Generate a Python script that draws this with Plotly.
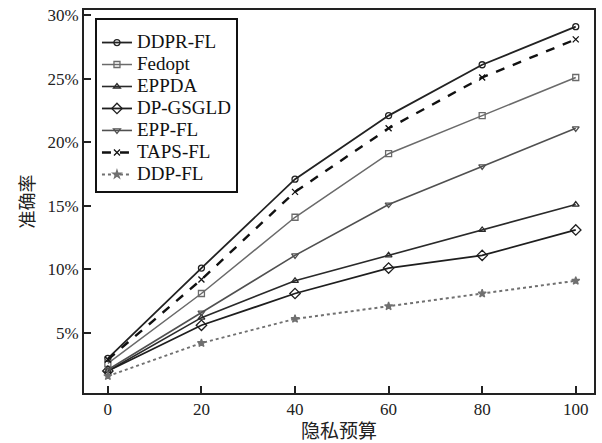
import plotly.graph_objects as go

x_vals = [0, 20, 40, 60, 80, 100]
ddpr_fl = [3.0, 10.1, 17.1, 22.1, 26.1, 29.1]
fedopt = [2.6, 8.1, 14.1, 19.1, 22.1, 25.1]
eppda = [2.0, 6.2, 9.1, 11.1, 13.1, 15.1]
dp_gsgld = [2.0, 5.6, 8.1, 10.1, 11.1, 13.1]
epp_fl = [2.1, 6.6, 11.1, 15.1, 18.1, 21.1]
taps_fl = [2.9, 9.2, 16.1, 21.1, 25.1, 28.1]
ddp_fl = [1.6, 4.2, 6.1, 7.1, 8.1, 9.1]
y_ticks = [5, 10, 15, 20, 25, 30]
y_tick_text = ["5%", "10%", "15%", "20%", "25%", "30%"]
x_ticks = [0, 20, 40, 60, 80, 100]

series = [
    ("DDPR-FL", ddpr_fl, "#222222", "solid", 1.8, "circle-open", 6),
    ("Fedopt", fedopt, "#6a6a6a", "solid", 1.5, "square-open", 6),
    ("EPPDA", eppda, "#2a2a2a", "solid", 1.6, "triangle-up-open", 6),
    ("DP-GSGLD", dp_gsgld, "#1e1e1e", "solid", 1.8, "diamond-open", 8),
    ("EPP-FL", epp_fl, "#505050", "solid", 1.6, "triangle-down-open", 6),
    ("TAPS-FL", taps_fl, "#111111", "dash", 2.4, "x-thin-open", 6),
    ("DDP-FL", ddp_fl, "#707070", "dot", 2.0, "star", 6),
]

fig = go.Figure()
for name, ys, color, dash, width, symbol, size in series:
    fig.add_trace(go.Scatter(
        x=x_vals, y=ys, name='<span style="font-size:19px">' + name + '</span>',
        mode="lines+markers",
        line=dict(color=color, dash=dash, width=width),
        marker=dict(symbol=symbol, size=size, color=color,
                    line=dict(color=color, width=1.3)),
    ))

serif = "Liberation Serif"
axis_font = dict(family=serif, size=17, color="#222222")

fig.update_layout(
    width=602, height=443,
    margin=dict(l=84, r=6, t=9, b=45),
    paper_bgcolor="white", plot_bgcolor="white",
    font=dict(family=serif, size=17, color="#222222"),
    showlegend=True,
    legend=dict(
        x=0.0215, y=0.979, xanchor="left", yanchor="top",
        bgcolor="white", bordercolor="#111111", borderwidth=2,
        font=dict(family=serif, size=14.6, color="#111111"),
        tracegroupgap=0, itemwidth=30,
        title=dict(text="&nbsp;", font=dict(size=5)),
    ),
    xaxis=dict(
        range=[-5.1, 103.9], tickvals=x_ticks,
        ticks="inside", ticklen=7, tickwidth=1.5, tickcolor="#222222",
        showline=True, linecolor="#222222", linewidth=2, mirror=True,
        showgrid=False, zeroline=False,
        tickfont=axis_font,
        title=dict(text="隐私预算", font=dict(family="Noto Sans CJK SC", size=19, color="#222222"), standoff=4),
    ),
    yaxis=dict(
        range=[0.27, 30.41], tickvals=y_ticks, ticktext=y_tick_text,
        ticks="inside", ticklen=7, tickwidth=1.5, tickcolor="#222222",
        showline=True, linecolor="#222222", linewidth=2, mirror=True,
        showgrid=False, zeroline=False,
        tickfont=axis_font,
        title=dict(text="准确率", font=dict(family="Noto Sans CJK SC", size=18, color="#222222"), standoff=8),
    ),
)

fig.write_html("out.html")
